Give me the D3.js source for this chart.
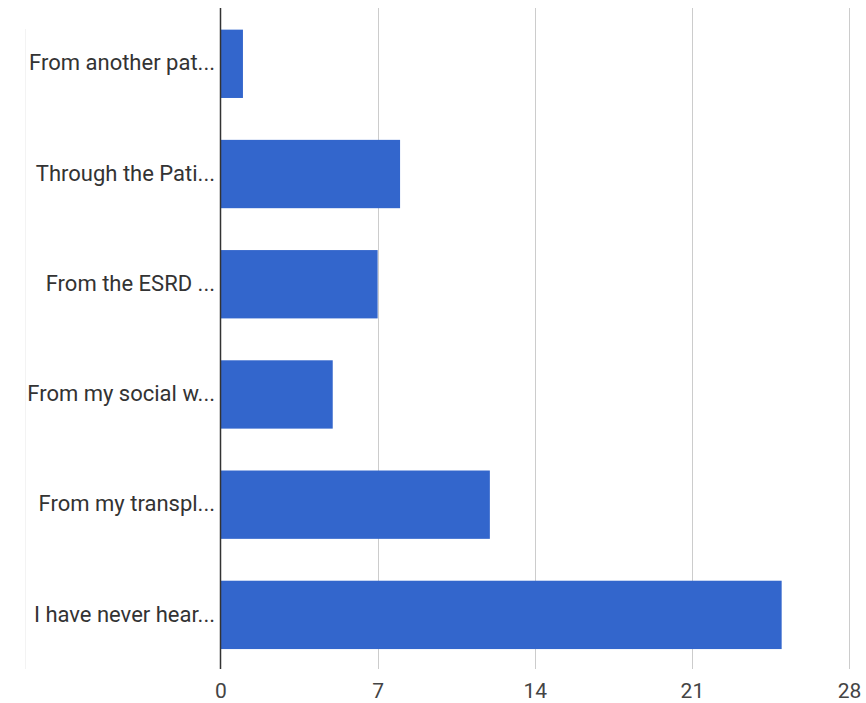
<!DOCTYPE html>
<html>
<head>
<meta charset="utf-8">
<script src="https://cdn.jsdelivr.net/npm/d3@7"></script>
<style>
  html, body { margin: 0; padding: 0; background: #fff; }
  svg { display: block; font-family: Roboto, Arial, sans-serif; }
</style>
</head>
<body>
<svg id="chart" width="866" height="703"></svg>
<script>
const categories = [
  "From another pat...",
  "Through the Pati...",
  "From the ESRD ...",
  "From my social w...",
  "From my transpl...",
  "I have never hear..."
];
const values = [1, 8, 7, 5, 12, 25];
const tickValues = [0, 7, 14, 21, 28];

const svg = d3.select("#chart");
const x0 = 220.5, x1 = 849, yTop = 8, yBot = 669;

const x = d3.scaleLinear().domain([0, 28]).range([x0, x1]);
const y = d3.scaleBand().domain(categories).range([8.7, 670])
  .paddingInner(0.38).paddingOuter(0.19);

// faint left border
svg.append("line")
  .attr("x1", 25.5).attr("x2", 25.5).attr("y1", 29).attr("y2", yBot)
  .attr("stroke", "#f3f3f3").attr("stroke-width", 1);

// gridlines
svg.append("g").selectAll("line")
  .data(tickValues.filter(d => d !== 0))
  .join("line")
  .attr("x1", d => Math.round(x(d)) + 0.5)
  .attr("x2", d => Math.round(x(d)) + 0.5)
  .attr("y1", yTop).attr("y2", yBot)
  .attr("stroke", "#cccccc").attr("stroke-width", 1);

// bars
svg.append("g").selectAll("rect")
  .data(categories.map((c, i) => ({ c, v: values[i] })))
  .join("rect")
  .attr("x", x(0))
  .attr("y", d => y(d.c))
  .attr("width", d => x(d.v) - x(0))
  .attr("height", y.bandwidth())
  .attr("fill", "#3366cc");

// baseline axis
svg.append("line")
  .attr("x1", x0).attr("x2", x0).attr("y1", yTop).attr("y2", yBot)
  .attr("stroke", "#333333").attr("stroke-width", 1.5);

// x axis tick labels
const xAxis = d3.axisBottom(x).tickValues(tickValues).tickSize(0).tickPadding(0);
const gx = svg.append("g").attr("transform", `translate(0,${yBot})`).call(xAxis);
gx.select(".domain").remove();
gx.selectAll("text")
  .attr("y", 29).attr("dy", 0)
  .attr("font-size", 21)
  .attr("font-family", "Roboto, Arial, sans-serif")
  .attr("fill", "#444444");

// y axis category labels
const yAxis = d3.axisLeft(y).tickSize(0).tickPadding(0);
const gy = svg.append("g").attr("transform", `translate(215,0)`).call(yAxis);
gy.select(".domain").remove();
gy.selectAll("text")
  .attr("x", 0)
  .attr("dy", "0.3em")
  .attr("font-size", 22)
  .attr("font-family", "Roboto, Arial, sans-serif")
  .attr("fill", "#333333");
</script>
</body>
</html>
